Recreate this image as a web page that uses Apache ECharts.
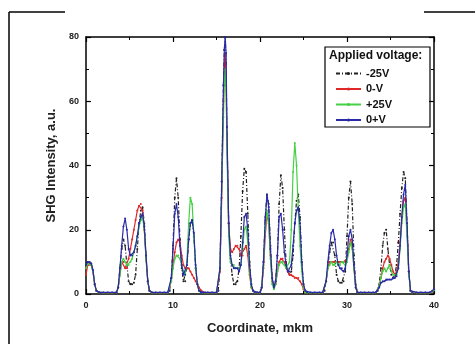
<!DOCTYPE html>
<html><head><meta charset="utf-8">
<script src="https://cdn.jsdelivr.net/npm/echarts@6/dist/echarts.min.js"></script>
<style>html,body{margin:0;padding:0;background:#fff}#c{width:475px;height:344px}</style>
</head><body><div id="c"></div>
<script>
const xs = [0,0.2,0.4,0.6,0.8,1.0,1.2,1.5,
2.0,2.5,3.0,3.5,
3.7,3.9,4.1,4.3,4.5,4.7,4.9,5.1,5.3,5.5,5.7,5.9,6.1,6.3,6.5,6.7,6.9,7.1,7.3,7.6,
8.0,8.5,9.0,9.4,
9.6,9.8,10.0,10.2,10.4,10.6,10.8,11.0,11.2,11.4,11.6,11.8,12.0,12.2,12.4,12.6,12.8,13.0,13.2,13.4,13.7,
14.0,14.5,15.0,
15.2,15.4,15.6,15.8,15.9,16.0,16.1,16.2,16.4,16.6,16.8,17.0,17.2,17.4,17.6,17.8,18.0,18.2,18.4,18.6,18.8,19.0,19.2,19.4,
19.7,20.0,
20.2,20.4,20.6,20.8,21.0,21.2,21.4,21.6,21.8,22.0,22.2,22.4,22.6,22.8,23.0,23.2,23.4,23.6,23.8,24.0,24.2,24.4,24.6,24.8,25.0,25.2,25.4,
25.8,26.3,26.8,27.2,
27.4,27.6,27.8,28.0,28.2,28.4,28.6,28.8,29.0,29.2,29.4,29.6,29.8,30.0,30.2,30.4,30.6,30.8,31.0,31.2,
31.6,32.0,32.5,33.0,33.3,
33.5,33.7,33.9,34.1,34.3,34.5,34.7,34.9,35.1,35.3,35.5,35.7,35.9,36.1,36.3,36.5,36.7,36.9,37.1,37.3,37.5,
38.0,38.5,39.0,39.5,39.8,40.0];

const yNeg25 = [9,10,10,9.5,7,3,1,0.5,
0.3,0.3,0.3,0.5,
2,8,14,17,15,9,4,3,3,3.5,6,14,22,26,27,22,12,4,1,0.3,
0.3,0.3,0.3,0.3,
1,5,15,30,36,30,17,8,4,4,8,17,22,23,18,8,3,1,0.5,0.3,0.3,
0.3,0.3,0.3,
1,8,35,65,76,80,72,50,22,11,6,3,3,4,8,18,32,39,38,25,10,3,1,0.3,
0.3,0.3,
2,10,24,31,28,15,5,2,4,12,28,37,33,20,10,7,6,7,12,22,29,31,24,10,3,1,0.3,
0.3,0.3,0.3,0.3,
1,4,9,13,16,16,12,6,4,3.5,3.5,4,7,18,30,35,28,12,3,0.5,
0.3,0.3,0.3,0.3,0.3,
1,3,8,15,19,20,14,9,6,5,6,9,16,25,33,38,36,22,7,1,0.3,
0.3,0.3,0.3,0.3,0.8,1.2];

const y0minus = [6,9,9.5,9,7,3,1,0.5,
0.4,0.4,0.4,0.5,
2,6,10,10,8,8,11,14,17,20,23,26,27.5,28,26,20,11,4,1,0.4,
0.4,0.4,0.4,0.4,
1,4,9,13,16,17,16,12,9,8,8,8,7,6,5,4,3,2,1.2,0.6,0.4,
0.4,0.4,0.4,
1,7,30,60,70,75,68,48,22,14,13,14,15,15,14,12,12,14,15,12,6,2,1,0.4,
0.4,0.4,
2,8,18,25,22,12,4,2,3,7,10,11,11,10,8,7,6,6,5.5,5,5,5,4,3,1.5,0.5,0.4,
0.4,0.4,0.4,0.4,
1,4,8,10,10,10,10,10,10,10,10,10,10,11,14,17,15,8,2,0.5,
0.4,0.4,0.4,0.4,0.4,
1,2.5,5,8,10,11,12,11,9,7,6,7,10,16,24,29,30,20,7,1,0.4,
0.4,0.4,0.4,0.4,0.8,1.2];

const yPos25 = [8,9.5,10,9,7,3,1,0.5,
0.4,0.4,0.4,0.5,
2,6,10,11,10,9,9,10,11,13,15,18,21,23,24,20,11,4,1,0.4,
0.4,0.4,0.4,0.4,
1,4,8,11,12,12,11,9,7,6,10,22,30,28,18,8,3,1,0.5,0.4,0.4,
0.4,0.4,0.4,
1,8,33,55,65,70,65,45,18,10,9,9,8,8,8,9,14,20,21,16,7,2,1,0.4,
0.4,0.4,
2,9,20,26,22,11,3,1.5,3,7,9,10,10,9,8,8,10,20,38,47,40,26,15,7,2,0.5,0.4,
0.4,0.4,0.4,0.4,
1,4,8,9,10,9,9,10,9,9,10,10,9,10,13,16,14,8,2,0.5,
0.4,0.4,0.4,0.4,0.4,
1,2.5,5,7,8,7,8,9,7,6,6,6,8,14,22,27,28,18,6,1,0.4,
0.4,0.4,0.4,0.4,0.8,1.2];

const y0plus = [9,10,10,9.5,7.5,3,1,0.5,
0.5,0.5,0.5,0.5,
2,8,15,21,23.5,20,14,12,12,13,15,18,22,24,25,21,12,4,1,0.5,
0.5,0.5,0.5,0.5,
1,5,14,25,28,24,15,9,6,6,9,17,22,23,19,9,3,1,0.5,0.5,0.5,
0.5,0.5,0.5,
1,8,35,65,76,80,75,52,22,12,9,8,8,8,7,9,16,24,25,20,9,3,1,0.5,
0.5,0.5,
2,10,23,31,27,14,5,2,4,12,24,25,20,13,9,7,7,9,15,22,26,27,22,10,3,1,0.5,
0.5,0.5,0.5,0.5,
1,4,10,15,19,20,17,12,9,8,8,7,8,12,18,20,17,9,2,0.5,
0.5,0.5,0.5,0.5,0.5,
1,2,3.5,4,4,4.5,4.5,4.5,4.5,5,5,5.5,8,15,24,31,34,22,7,1,0.5,
0.5,0.5,0.5,0.5,1,1.5];

const seriesNames = ['-25V','0-V','+25V','0+V'];
const seriesData = [yNeg25, y0minus, yPos25, y0plus];
const colors = ['#222222','#e02828','#44d044','#2a2aa8'];
const lineTypes = [[4,2,1,2],'solid','solid','solid'];

const chart = echarts.init(document.getElementById('c'));
const font = 'Liberation Sans, Arial, sans-serif';
const axisCommon = {
  min:0, axisLine:{show:true,onZero:false,lineStyle:{color:'#000',width:1.5}},
  axisTick:{inside:true,length:5,lineStyle:{color:'#000',width:1.2}},
  minorTick:{show:true,splitNumber:2,length:3,lineStyle:{color:'#000'}},
  splitLine:{show:false}
};
chart.setOption({
  animation:false,
  grid:{left:86,right:41,top:37,bottom:50},
  xAxis:[
    Object.assign({},axisCommon,{type:'value',max:40,interval:10,position:'bottom',
      axisLabel:{color:'#222',fontFamily:font,fontWeight:'bold',fontSize:9,margin:7},
      name:'Coordinate, mkm',nameLocation:'middle',nameGap:28,
      nameTextStyle:{color:'#222',fontFamily:font,fontWeight:'bold',fontSize:13}}),
    Object.assign({},axisCommon,{type:'value',max:40,interval:10,position:'top',axisLabel:{show:false}})
  ],
  yAxis:[
    Object.assign({},axisCommon,{type:'value',max:80,interval:20,position:'left',
      axisLabel:{color:'#222',fontFamily:font,fontWeight:'bold',fontSize:9,margin:7},
      name:'SHG Intensity, a.u.',nameLocation:'middle',nameGap:19,
      nameTextStyle:{color:'#222',fontFamily:font,fontWeight:'bold',fontSize:13}}),
    Object.assign({},axisCommon,{type:'value',max:80,interval:20,position:'right',axisLabel:{show:false}})
  ],
  legend:{
    z:30,
    orient:'vertical',left:330,top:62,itemGap:2.5,itemWidth:25,itemHeight:4,
    data:seriesNames,
    textStyle:{color:'#111',fontFamily:font,fontWeight:'bold',fontSize:11,lineHeight:13}
  },
  graphic:[
    {type:'line',shape:{x1:9,y1:12,x2:65,y2:12},style:{stroke:'#000',lineWidth:1.5}},
    {type:'line',shape:{x1:9,y1:12,x2:9,y2:344},style:{stroke:'#000',lineWidth:1.5}},
    {type:'line',shape:{x1:424,y1:12,x2:475,y2:12},style:{stroke:'#000',lineWidth:1.5}},
    {type:'rect',shape:{x:325,y:47,width:105,height:80},style:{fill:'#fff',stroke:'#000',lineWidth:1.2},z:-1},
    {type:'text',left:329,top:50,style:{text:'Applied voltage:',fill:'#111',font:'bold 12px '+font},z:6}
  ],
  series:seriesNames.map((n,i)=>({
    name:n,type:'line',xAxisIndex:0,yAxisIndex:0,
    data:xs.map((x,j)=>[x,seriesData[i][j]]),
    symbol:'circle',symbolSize:2,showSymbol:true,
    itemStyle:{color:colors[i]},
    lineStyle:{color:colors[i],width:1.2,type:lineTypes[i]},
    z:2+i
  }))
});
</script></body></html>
